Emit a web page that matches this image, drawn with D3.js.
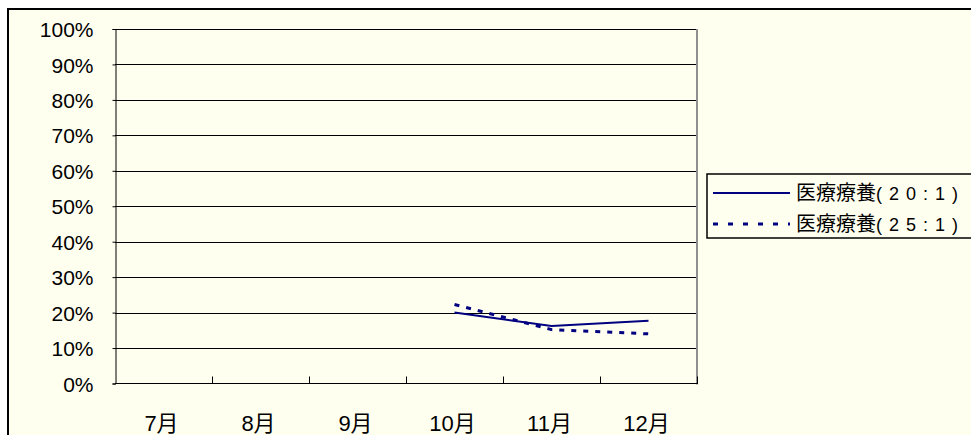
<!DOCTYPE html>
<html><head><meta charset="utf-8">
<script src="https://cdn.jsdelivr.net/npm/d3@7"></script>
<style>
html,body{margin:0;padding:0;background:#fff;}
svg{display:block;}
</style></head>
<body>
<script>
const months = ["7月","8月","9月","10月","11月","12月"];
const yTicks = [0,10,20,30,40,50,60,70,80,90,100];
const series20 = [null,null,null,20.0,16.2,17.7];
const series25 = [null,null,null,22.3,15.2,14.0];
const seriesNames = ["医療療養", "医療療養"];
const seriesSuffix = ["(20:1)", "(25:1)"];

const W = 971, H = 435;
const bg = "#FFFFF0";
const navy = "#000080";
const latin = "'Liberation Sans', Arial, 'Noto Sans CJK JP', sans-serif";

const svg = d3.select("body").append("svg").attr("width", W).attr("height", H);

// outer chart frame
svg.append("rect").attr("x", 0).attr("y", 0).attr("width", W).attr("height", H).attr("fill", "#fff");
svg.append("rect").attr("x", 8).attr("y", 9).attr("width", W + 20).attr("height", H + 20)
  .attr("fill", bg).attr("stroke", "#000").attr("stroke-width", 2);

const plot = {left: 115, top: 29, right: 697, bottom: 383.5};

const x = d3.scaleBand().domain(months).range([plot.left, plot.right]).padding(0);
const y = d3.scaleLinear().domain([0, 100]).range([plot.bottom, plot.top]);

// gridlines
svg.append("g").selectAll("line").data(yTicks.filter(d => d > 0)).join("line")
  .attr("x1", plot.left).attr("x2", plot.right)
  .attr("y1", d => Math.round(y(d)) + 0.5).attr("y2", d => Math.round(y(d)) + 0.5)
  .attr("stroke", "#000").attr("stroke-width", 1);

// plot right border (gray)
svg.append("line").attr("x1", plot.right).attr("x2", plot.right)
  .attr("y1", plot.top).attr("y2", plot.bottom + 1)
  .attr("stroke", "#909090").attr("stroke-width", 2);

// y axis
const yAxis = d3.axisLeft(y).tickValues(yTicks).tickSize(3).tickFormat(d => d + "%");
const gy = svg.append("g").attr("transform", `translate(${plot.left + 0.5},0)`).call(yAxis);
gy.select(".domain").attr("stroke", "#000");
gy.selectAll(".tick line").attr("stroke", "#000");
gy.selectAll(".tick text").attr("font-family", latin).attr("font-size", 21)
  .attr("fill", "#000").attr("x", -22).attr("dy", "0.36em");

// x axis with inward ticks at category boundaries
const gx = svg.append("g").attr("transform", `translate(0,${plot.bottom})`);
gx.append("line").attr("x1", plot.left).attr("x2", plot.right + 1).attr("y1", 0).attr("y2", 0)
  .attr("stroke", "#000").attr("stroke-width", 1.2);
const boundaries = months.map(m => x(m)).concat([x(months[months.length - 1]) + x.bandwidth()]);
gx.selectAll("line.tk").data(boundaries.slice(1)).join("line").attr("class", "tk")
  .attr("x1", d => Math.round(d) + 0.5).attr("x2", d => Math.round(d) + 0.5)
  .attr("y1", 0).attr("y2", -7).attr("stroke", "#000");
gx.selectAll("text").data(months).join("text")
  .attr("x", d => x(d) + x.bandwidth() / 2 - 2)
  .attr("y", 47)
  .attr("text-anchor", "middle")
  .attr("font-family", latin).attr("font-size", 22).attr("fill", "#000")
  .text(d => d);

// lines
const line = d3.line()
  .defined(d => d.v !== null)
  .x(d => x(d.m) + x.bandwidth() / 2)
  .y(d => y(d.v));

const d20 = months.map((m, i) => ({m, v: series20[i]}));
const d25 = months.map((m, i) => ({m, v: series25[i]}));

svg.append("path").datum(d25).attr("d", line).attr("fill", "none")
  .attr("stroke", navy).attr("stroke-width", 3).attr("stroke-dasharray", "5,7");
svg.append("path").datum(d20).attr("d", line).attr("fill", "none")
  .attr("stroke", navy).attr("stroke-width", 2);

// legend
const lg = svg.append("g");
lg.append("rect").attr("x", 707).attr("y", 174).attr("width", 280).attr("height", 64)
  .attr("fill", bg).attr("stroke", "#000").attr("stroke-width", 1.5);
const legendRows = [
  {y: 193, dash: null, w: 2},
  {y: 224, dash: "5,10", w: 3}
];
legendRows.forEach((r, i) => {
  const l = lg.append("line").attr("x1", 713).attr("x2", 790).attr("y1", r.y).attr("y2", r.y)
    .attr("stroke", navy).attr("stroke-width", r.w);
  if (r.dash) l.attr("stroke-dasharray", r.dash);
  const t = lg.append("text").attr("x", 796).attr("y", r.y + 7)
    .attr("font-family", "'Noto Sans CJK JP', sans-serif").attr("font-size", 20).attr("fill", "#000");
  t.append("tspan").text(seriesNames[i]);
  t.append("tspan").attr("font-family", latin).attr("font-size", 18)
    .attr("letter-spacing", 7).text(seriesSuffix[i]);
});
</script>
</body></html>
